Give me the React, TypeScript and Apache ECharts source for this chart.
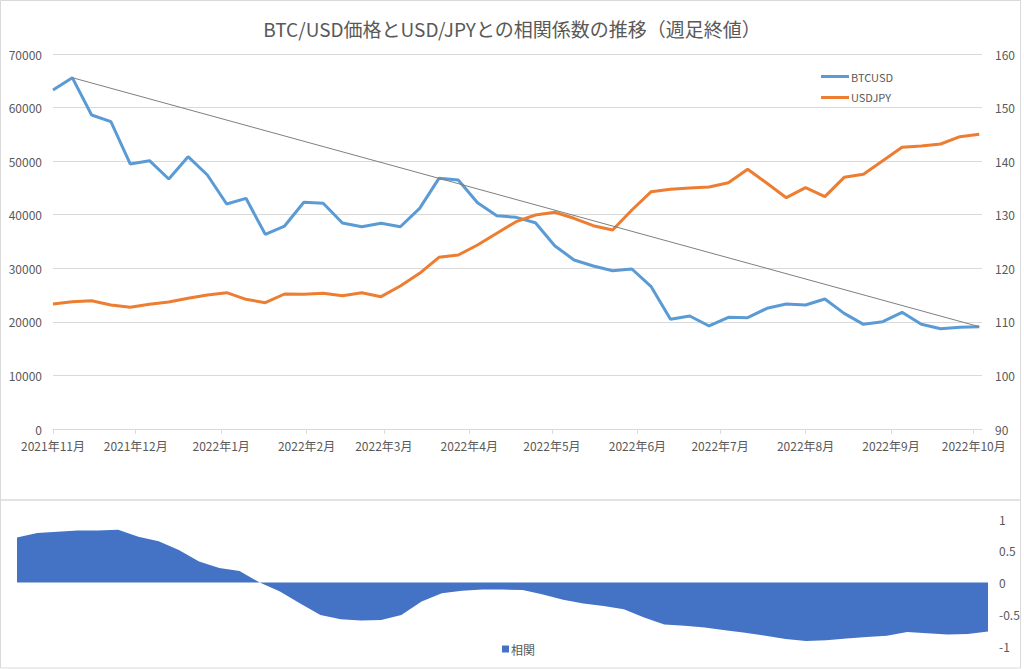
import React, { useEffect, useRef } from "react";
import * as echarts from "echarts";

const weeks = [
  "2021-11-01", "2021-11-08", "2021-11-15", "2021-11-22", "2021-11-29",
  "2021-12-06", "2021-12-13", "2021-12-20", "2021-12-27",
  "2022-01-03", "2022-01-10", "2022-01-17", "2022-01-24", "2022-01-31",
  "2022-02-07", "2022-02-14", "2022-02-21", "2022-02-28",
  "2022-03-07", "2022-03-14", "2022-03-21", "2022-03-28",
  "2022-04-04", "2022-04-11", "2022-04-18", "2022-04-25",
  "2022-05-02", "2022-05-09", "2022-05-16", "2022-05-23", "2022-05-30",
  "2022-06-06", "2022-06-13", "2022-06-20", "2022-06-27",
  "2022-07-04", "2022-07-11", "2022-07-18", "2022-07-25",
  "2022-08-01", "2022-08-08", "2022-08-15", "2022-08-22", "2022-08-29",
  "2022-09-05", "2022-09-12", "2022-09-19", "2022-09-26",
  "2022-10-03",
];

const monthTicks = [
  "2021-11-01", "2021-12-01", "2022-01-01", "2022-02-01", "2022-03-01", "2022-04-01",
  "2022-05-01", "2022-06-01", "2022-07-01", "2022-08-01", "2022-09-01", "2022-10-01",
];

const btcusd = [
  63280, 65580, 58610, 57370, 49470, 50090, 46670, 50830, 47410, 42000,
  43060, 36340, 37890, 42320, 42130, 38450, 37760, 38400, 37760, 41190,
  46790, 46480, 42250, 39820, 39510, 38510, 34220, 31550, 30430, 29550,
  29870, 26570, 20470, 21090, 19230, 20850, 20780, 22530, 23330, 23150,
  24270, 21590, 19540, 20040, 21780, 19540, 18720, 18980, 19100,
];

const usdjpy = [
  113.33, 113.76, 113.95, 113.15, 112.71, 113.27, 113.71, 114.4, 115.01, 115.45,
  114.21, 113.58, 115.2, 115.14, 115.33, 114.89, 115.45, 114.7, 116.69, 119.06,
  122.05, 122.48, 124.35, 126.53, 128.7, 129.95, 130.45, 129.33, 127.95, 127.15,
  130.88, 134.3, 134.74, 134.99, 135.17, 135.98, 138.48, 135.86, 133.18, 135.05,
  133.37, 136.98, 137.54, 140.08, 142.58, 142.83, 143.2, 144.57, 145.01,
];

const correlation = [
  0.71, 0.78, 0.8, 0.82, 0.82, 0.83, 0.72, 0.65, 0.51, 0.33,
  0.23, 0.18, 0.0, -0.14, -0.33, -0.51, -0.58, -0.6, -0.59, -0.51,
  -0.3, -0.17, -0.13, -0.11, -0.11, -0.12, -0.19, -0.27, -0.33, -0.37,
  -0.42, -0.55, -0.66, -0.68, -0.71, -0.75, -0.79, -0.84, -0.89, -0.92,
  -0.91, -0.88, -0.86, -0.84, -0.78, -0.8, -0.82, -0.81, -0.77,
];

const leftTicks = { min: 0, max: 70000, interval: 10000 };
const rightTicks = { min: 90, max: 160, interval: 10 };
const corrTicks = { min: -1, max: 1, interval: 0.5 };
const axisEnd = "2022-10-04";

const DAY = 86400000;
const toTime = (s: string) => {
  const [y, m, d] = s.split("-").map(Number);
  return Date.UTC(y, m - 1, d);
};
const origin = toTime(weeks[0]);
const toDay = (s: string) => Math.round((toTime(s) - origin) / DAY);

const TEXT = "#595959";
const GRID = "#d9d9d9";
const FONT = "'Noto Sans CJK JP', 'Noto Sans', sans-serif";
const plain = (v: number) => String(v);

export default function App() {
  const ref = useRef<HTMLDivElement>(null);

  useEffect(() => {
    if (!ref.current) return;
    const chart = echarts.init(ref.current, undefined, { renderer: "svg" });
    const days = weeks.map(toDay);
    const tickDays = monthTicks.map(toDay);
    const labelMap: Record<number, string> = {};
    monthTicks.forEach((s, i) => {
      const [y, m] = s.split("-").map(Number);
      labelMap[tickDays[i]] = `${y}年${m}月`;
    });
    const last = days.length - 1;
    const trend = [
      [days[1], btcusd[1]],
      [days[last], btcusd[last]],
    ];

    chart.setOption({
      animation: false,
      backgroundColor: "#ffffff",
      textStyle: { fontFamily: FONT },
      title: {
        text: "BTC/USD価格とUSD/JPYとの相関係数の推移（週足終値）",
        left: "center",
        top: 14,
        textStyle: { color: TEXT, fontSize: 19, fontWeight: "normal", fontFamily: FONT },
      },
      graphic: [
        { type: "rect", shape: { x: 0.5, y: 0.5, width: 1020, height: 499.5 }, style: { fill: "none", stroke: GRID, lineWidth: 1 }, silent: true },
        { type: "rect", shape: { x: 0.5, y: 500, width: 1020, height: 168 }, style: { fill: "none", stroke: GRID, lineWidth: 1 }, silent: true },
      ],
      legend: [
        {
          orient: "vertical",
          left: 816,
          top: 66,
          itemGap: 10,
          itemWidth: 28,
          itemHeight: 3,
          icon: "rect",
          data: ["BTCUSD", "USDJPY"],
          textStyle: { color: TEXT, fontSize: 11, fontFamily: FONT, padding: [0, 0, 0, -3] },
        },
        {
          left: 497,
          top: 638,
          itemWidth: 7,
          itemHeight: 7,
          icon: "rect",
          data: ["相関"],
          textStyle: { color: TEXT, fontSize: 12, fontFamily: FONT, padding: [0, 0, 0, -3] },
        },
      ],
      grid: [
        { left: 53, right: 42, top: 54, height: 375 },
        { left: 17, right: 36, top: 519, height: 127 },
      ],
      xAxis: [
        {
          type: "value",
          gridIndex: 0,
          min: 0,
          max: toDay(axisEnd),
          axisLine: { show: true, onZero: false, lineStyle: { color: GRID } },
          axisTick: { show: true, length: 5, lineStyle: { color: GRID }, customValues: tickDays },
          splitLine: { show: false },
          axisLabel: {
            customValues: tickDays,
            color: TEXT,
            fontSize: 12,
            fontFamily: FONT,
            margin: 10,
            showMinLabel: true,
            showMaxLabel: true,
            hideOverlap: false,
            formatter: (v: number) => labelMap[Math.round(v)] ?? "",
          },
        },
        {
          type: "value",
          gridIndex: 1,
          min: 0,
          max: days[last],
          show: false,
        },
      ],
      yAxis: [
        {
          type: "value",
          gridIndex: 0,
          position: "left",
          ...leftTicks,
          axisLine: { show: false },
          axisTick: { show: false },
          splitLine: { show: true, lineStyle: { color: GRID, width: 1 } },
          axisLabel: { color: TEXT, fontSize: 12, fontFamily: FONT, margin: 11, formatter: plain },
        },
        {
          type: "value",
          gridIndex: 0,
          position: "right",
          ...rightTicks,
          axisLine: { show: false },
          axisTick: { show: false },
          splitLine: { show: false },
          axisLabel: { color: TEXT, fontSize: 12, fontFamily: FONT, margin: 13, formatter: plain },
        },
        {
          type: "value",
          gridIndex: 1,
          position: "right",
          ...corrTicks,
          axisLine: { show: false },
          axisTick: { show: false },
          splitLine: { show: false },
          axisLabel: { color: TEXT, fontSize: 12, fontFamily: FONT, margin: 11, formatter: plain },
        },
      ],
      series: [
        {
          name: "BTCUSD",
          type: "line",
          xAxisIndex: 0,
          yAxisIndex: 0,
          data: days.map((t, i) => [t, btcusd[i]]),
          symbol: "none",
          itemStyle: { color: "#5B9BD5" },
          lineStyle: { color: "#5B9BD5", width: 3 },
          z: 3,
        },
        {
          name: "USDJPY",
          type: "line",
          xAxisIndex: 0,
          yAxisIndex: 1,
          data: days.map((t, i) => [t, usdjpy[i]]),
          symbol: "none",
          itemStyle: { color: "#ED7D31" },
          lineStyle: { color: "#ED7D31", width: 3 },
          z: 3,
        },
        {
          name: "近似",
          type: "line",
          xAxisIndex: 0,
          yAxisIndex: 0,
          data: trend,
          symbol: "none",
          itemStyle: { color: "#7f7f7f" },
          lineStyle: { color: "#7f7f7f", width: 1 },
          z: 4,
        },
        {
          name: "相関",
          type: "line",
          xAxisIndex: 1,
          yAxisIndex: 2,
          data: days.map((t, i) => [t, correlation[i]]),
          symbol: "none",
          itemStyle: { color: "#4472C4" },
          lineStyle: { width: 0, color: "#4472C4" },
          areaStyle: { color: "#4472C4", opacity: 1, origin: 0 },
        },
      ],
    });

    return () => chart.dispose();
  }, []);

  return (
    <div
      ref={ref}
      style={{ position: "fixed", left: 0, top: 0, width: 1024, height: 669, background: "#fff" }}
    />
  );
}
